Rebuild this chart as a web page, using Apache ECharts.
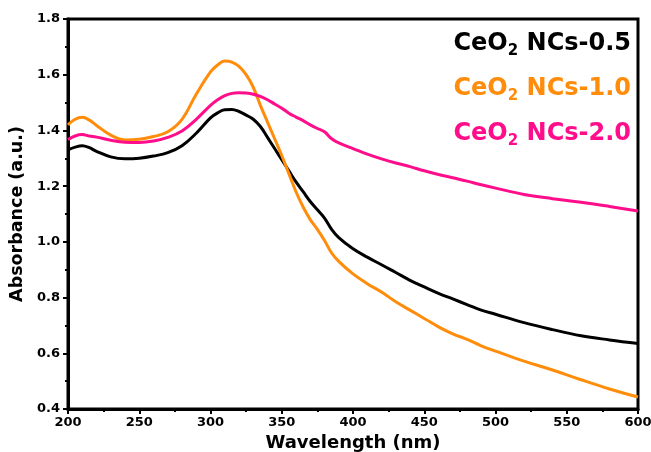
<!DOCTYPE html>
<html>
<head>
<meta charset="utf-8">
<script src="https://cdn.jsdelivr.net/npm/echarts@6/dist/echarts.min.js"></script>
<style>
  html, body { margin: 0; padding: 0; background: #fff; }
  #container { width: 651px; height: 452px; }
</style>
</head>
<body>
<div id="container"></div>
<script>
// wavelength (nm)
var wavelength = [200, 205, 210, 215, 220, 230, 240, 250, 260, 270, 280, 290, 300, 305, 310, 315, 320, 325, 330, 335,
  340, 345, 350, 355, 360, 365, 370, 375, 380, 385, 390, 400, 410, 420, 430, 440, 450, 460, 470, 480,
  490, 500, 520, 540, 560, 580, 600];

var ncs05 = [1.33, 1.34, 1.345, 1.338, 1.325, 1.305, 1.298, 1.30, 1.308, 1.32, 1.345, 1.39, 1.445, 1.463, 1.474, 1.475, 1.468, 1.455, 1.44, 1.414,
  1.375, 1.335, 1.295, 1.255, 1.215, 1.18, 1.145, 1.115, 1.085, 1.045, 1.015, 0.975, 0.945, 0.918, 0.89, 0.862, 0.838, 0.815, 0.795, 0.775,
  0.755, 0.74, 0.71, 0.685, 0.663, 0.648, 0.635];

var ncs10 = [1.42, 1.44, 1.447, 1.437, 1.418, 1.383, 1.366, 1.368, 1.378, 1.395, 1.44, 1.53, 1.61, 1.635, 1.649, 1.645, 1.63, 1.60, 1.555, 1.49,
  1.43, 1.37, 1.31, 1.245, 1.18, 1.125, 1.08, 1.045, 1.005, 0.96, 0.93, 0.885, 0.85, 0.82, 0.785, 0.755, 0.725, 0.695, 0.67, 0.65,
  0.627, 0.608, 0.572, 0.54, 0.505, 0.472, 0.443];

var ncs20 = [1.367, 1.38, 1.385, 1.38, 1.376, 1.365, 1.358, 1.357, 1.362, 1.375, 1.398, 1.44, 1.49, 1.51, 1.525, 1.533, 1.535, 1.534, 1.53, 1.522,
  1.51, 1.495, 1.48, 1.462, 1.448, 1.435, 1.42, 1.407, 1.395, 1.37, 1.355, 1.335, 1.315, 1.298, 1.283, 1.27, 1.255, 1.242, 1.23, 1.218,
  1.205, 1.193, 1.17, 1.155, 1.142, 1.127, 1.111];

var names = ['CeO2 NCs-0.5', 'CeO2 NCs-1.0', 'CeO2 NCs-2.0'];
var colors = ['#000000', '#ff8c0a', '#ff0d8a'];
var font = 'DejaVu Sans';

function pairs(ys) {
  var out = [];
  for (var i = 0; i < wavelength.length; i++) {
    out.push([wavelength[i], ys[i]]);
  }
  return out;
}

function mkSeries(name, ys, color) {
  return {
    name: name,
    type: 'line',
    data: pairs(ys),
    smooth: 0.4,
    showSymbol: false,
    lineStyle: { color: color, width: 3 },
    itemStyle: { color: color }
  };
}

var keys = ['k', 'o', 'p'];
var rich = {};
for (var i = 0; i < 3; i++) {
  rich[keys[i]] = { color: colors[i], fontSize: 24, fontWeight: 'bold', fontFamily: font };
  rich[keys[i] + 's'] = { color: colors[i], fontSize: 15, fontWeight: 'bold', fontFamily: font, padding: [15, 0, 0, 0] };
}

var myChart = echarts.init(document.getElementById('container'));
var option = {
  animation: false,
  grid: {
    left: 68, right: 13, top: 19, bottom: 43,
    outerBoundsMode: 'none',
    containLabel: false,
    show: true, borderColor: '#000', borderWidth: 3
  },
  legend: {
    orient: 'vertical',
    right: 9,
    top: 27,
    align: 'right',
    itemWidth: 0,
    itemHeight: 0,
    itemGap: 18,
    data: names,
    formatter: function (name) {
      var k = keys[names.indexOf(name)];
      return '{' + k + '|CeO}{' + k + 's|2}{' + k + '| ' + name.split(' ')[1] + '}';
    },
    textStyle: { rich: rich }
  },
  xAxis: {
    type: 'value',
    min: 200, max: 600, interval: 50,
    name: 'Wavelength (nm)',
    nameLocation: 'middle',
    nameGap: 24,
    nameTextStyle: { fontSize: 18, fontWeight: 'bold', fontFamily: font, color: '#000' },
    axisLine: { lineStyle: { color: '#000', width: 3 } },
    axisTick: { length: 5, lineStyle: { color: '#000', width: 2 } },
    minorTick: { show: true, splitNumber: 2, length: 3, lineStyle: { color: '#000', width: 2 } },
    axisLabel: { fontSize: 13, fontWeight: 'bold', fontFamily: font, color: '#000', margin: 7 },
    splitLine: { show: false }
  },
  yAxis: {
    type: 'value',
    min: 0.4, max: 1.8, interval: 0.2,
    name: 'Absorbance (a.u.)',
    nameLocation: 'middle',
    nameGap: 39,
    nameTextStyle: { fontSize: 17.5, fontWeight: 'bold', fontFamily: font, color: '#000' },
    axisLine: { lineStyle: { color: '#000', width: 3 } },
    axisTick: { length: 5, lineStyle: { color: '#000', width: 2 } },
    minorTick: { show: true, splitNumber: 2, length: 3, lineStyle: { color: '#000', width: 2 } },
    axisLabel: {
      fontSize: 13, fontWeight: 'bold', fontFamily: font, color: '#000', margin: 8,
      formatter: function (v) { return v.toFixed(1); }
    },
    splitLine: { show: false }
  },
  series: [
    mkSeries(names[0], ncs05, colors[0]),
    mkSeries(names[1], ncs10, colors[1]),
    mkSeries(names[2], ncs20, colors[2])
  ]
};
myChart.setOption(option);
</script>
</body>
</html>
